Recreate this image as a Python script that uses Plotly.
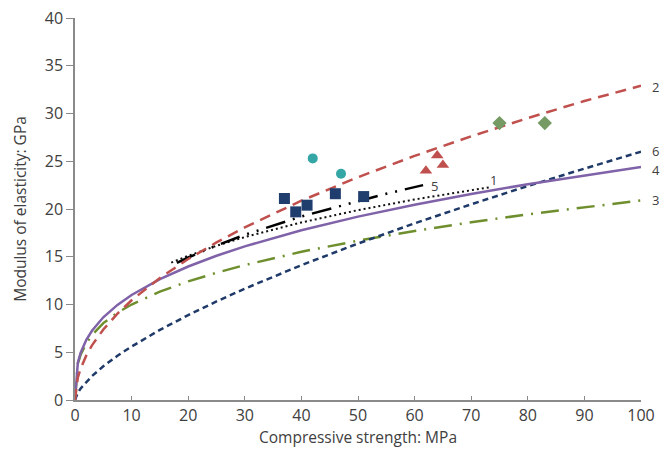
import plotly.graph_objects as go

# Compressive strength grid (MPa) for the model curves
strength = [0, 0.5, 1, 2, 3, 5, 7.5, 10, 15, 20, 25, 30, 40, 50, 60, 70, 80, 90, 100]
curve2 = [0, 2.33, 3.3, 4.67, 5.72, 7.38, 9.04, 10.44, 12.78, 14.76, 16.5, 18.07, 20.87, 23.33, 25.56, 27.61, 29.52, 31.31, 32.9]
curve6 = [0, 0.76, 1.21, 1.92, 2.51, 3.53, 4.63, 5.6, 7.34, 8.89, 10.32, 11.66, 14.12, 16.38, 18.5, 20.49, 22.41, 24.23, 26.0]
curve4 = [0, 3.9, 4.96, 6.3, 7.25, 8.66, 9.96, 11.0, 12.66, 13.98, 15.1, 16.09, 17.77, 19.2, 20.45, 21.57, 22.6, 23.53, 24.4]
curve3 = [0, 3.8, 4.75, 5.95, 6.8, 8.05, 9.15, 10.0, 11.35, 12.42, 13.32, 14.13, 15.52, 16.68, 17.7, 18.61, 19.44, 20.2, 20.9]

strength1 = [17, 20, 25, 30, 40, 50, 60, 70, 73.5]
curve1 = [14.38, 15.1, 16.15, 17.06, 18.59, 19.88, 21.0, 22.0, 22.3]

strength5 = [18, 20, 25, 30, 40, 50, 55, 61.5]
curve5 = [14.35, 14.92, 16.18, 17.3, 19.22, 20.86, 21.6, 22.5]

# Test data points
sq_x = [37, 39, 41, 46, 51]
sq_y = [21.1, 19.7, 20.4, 21.6, 21.3]
circ_x = [42, 47]
circ_y = [25.3, 23.7]
tri_x = [62, 64, 65]
tri_y = [24.0, 25.6, 24.6]
dia_x = [75, 83]
dia_y = [29.0, 29.0]

# Curve labels (end-of-curve labels sit just right of x = 100)
label_text = ["2", "6", "4", "3", "5", "1"]
label_x = [100, 100, 100, 100, 62.5, 73.0]
label_y = [32.8, 26.1, 24.1, 20.9, 22.4, 23.0]
label_shift = [9, 9, 9, 9, 0, 0]

FONT = "Open Sans, Noto Sans, sans-serif"
GREY = "#404040"

fig = go.Figure()

fig.add_trace(go.Scatter(x=strength, y=curve3, mode="lines",
                         line=dict(color="#6f8f2e", width=2.5, dash="18px,8px,2px,8px")))
fig.add_trace(go.Scatter(x=strength, y=curve6, mode="lines",
                         line=dict(color="#1f3a68", width=2.5, dash="6px,4px")))
fig.add_trace(go.Scatter(x=strength, y=curve4, mode="lines",
                         line=dict(color="#7f62a8", width=2.5)))
fig.add_trace(go.Scatter(x=strength1, y=curve1, mode="lines",
                         line=dict(color="#111111", width=2, dash="2px,3px")))
fig.add_trace(go.Scatter(x=strength5, y=curve5, mode="lines",
                         line=dict(color="#000000", width=2.5, dash="20px,8px,2px,8px,2px,8px")))
fig.add_trace(go.Scatter(x=strength, y=curve2, mode="lines",
                         line=dict(color="#c0504d", width=2.5, dash="11px,7px")))

fig.add_trace(go.Scatter(x=sq_x, y=sq_y, mode="markers",
                         marker=dict(symbol="square", size=11, color="#1f3d6d")))
fig.add_trace(go.Scatter(x=circ_x, y=circ_y, mode="markers",
                         marker=dict(symbol="circle", size=10, color="#35a6a6")))
fig.add_trace(go.Scatter(x=tri_x, y=tri_y, mode="markers",
                         marker=dict(symbol="triangle-up", size=11, color="#c0504d")))
fig.add_trace(go.Scatter(x=dia_x, y=dia_y, mode="markers",
                         marker=dict(symbol="diamond", size=11, color="#759a63")))

for t, x, y, s in zip(label_text, label_x, label_y, label_shift):
    fig.add_annotation(x=x, y=y, text=t, showarrow=False, xanchor="left", xshift=s,
                       yanchor="middle", font=dict(family=FONT, size=13, color=GREY))

# page body has an 8px default margin, so the figure is offset by 8px
fig.update_layout(
    width=660, height=450,
    margin=dict(l=67, r=27, t=10, b=58, autoexpand=False),
    paper_bgcolor="white", plot_bgcolor="white",
    showlegend=False,
    font=dict(family=FONT, size=16, color=GREY),
)
fig.update_xaxes(range=[0, 100], tickvals=[0, 10, 20, 30, 40, 50, 60, 70, 80, 90, 100],
                 showgrid=False, zeroline=False, showline=True, linecolor="#8a8a8a", linewidth=1.5,
                 ticks="inside", ticklen=4, tickcolor="#8a8a8a", ticklabeloverflow="allow",
                 tickfont=dict(family=FONT, size=16, color=GREY),
                 title=dict(text="Compressive strength: MPa", standoff=6,
                            font=dict(family=FONT, size=15.5, color=GREY)))
fig.update_yaxes(range=[0, 40], tickvals=[0, 5, 10, 15, 20, 25, 30, 35, 40],
                 showgrid=False, zeroline=False, showline=True, linecolor="#8a8a8a", linewidth=1.5,
                 ticks="outside", ticklen=7, tickcolor="#8a8a8a", ticklabeloverflow="allow",
                 tickfont=dict(family=FONT, size=16, color=GREY),
                 title=dict(text="Modulus of elasticity: GPa", standoff=14,
                            font=dict(family=FONT, size=15.5, color=GREY)))

fig.write_html("out.html")
